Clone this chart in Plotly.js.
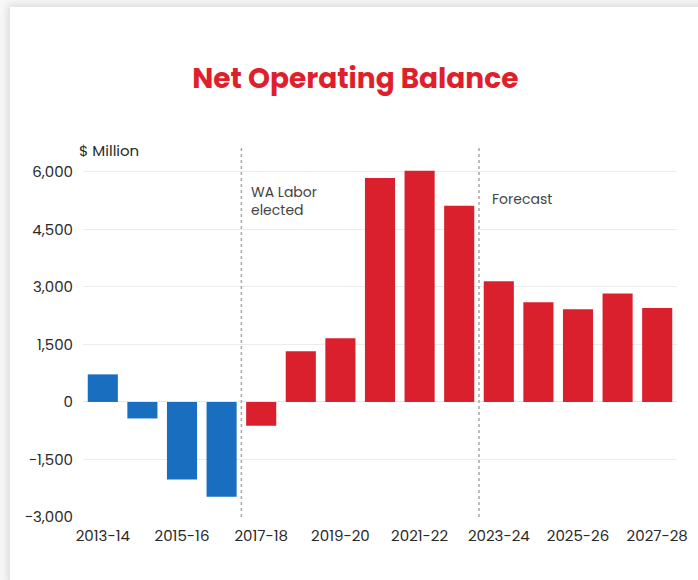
<!DOCTYPE html>
<html>
<head>
<meta charset="utf-8">
<script src="https://cdn.plot.ly/plotly-3.0.1.min.js"></script>
<style>
  html, body { margin: 0; padding: 0; width: 698px; height: 580px; overflow: hidden; background: #f7f7f7; }
  #card { position: absolute; left: 10px; top: 7px; width: 700px; height: 580px; background: #ffffff;
          box-shadow: -2px -2px 8px rgba(0,0,0,0.12); }
  #chart { position: absolute; left: 0; top: 0; width: 688px; height: 573px; }
</style>
</head>
<body>
<div id="card"><div id="chart"></div></div>
<script>
// Financial years
const categories = ["2013-14","2014-15","2015-16","2016-17","2017-18","2018-19","2019-20","2020-21",
                    "2021-22","2022-23","2023-24","2024-25","2025-26","2026-27","2027-28"];
// Net operating balance, $ million
const liberalYears = ["2013-14","2014-15","2015-16","2016-17"];
const liberalValues = [720, -430, -2020, -2470];
const laborYears = ["2017-18","2018-19","2019-20","2020-21","2021-22","2022-23",
                    "2023-24","2024-25","2025-26","2026-27","2027-28"];
const laborValues = [-620, 1320, 1660, 5840, 6030, 5120, 3150, 2600, 2420, 2830, 2450];
// Tick labels shown on the x axis
const xTickLabels = ["2013-14","2015-16","2017-18","2019-20","2021-22","2023-24","2025-26","2027-28"];
const yTickValues = [-3000, -1500, 0, 1500, 3000, 4500, 6000];
// Markers (boundaries between years)
const laborElectedAt = 3.5;
const forecastAt = 9.5;

const FONT = "Poppins, 'Open Sans', sans-serif";
const tickFont = { family: FONT, size: 15, color: "#2a2a2a" };

const traces = [
  { type: "bar", x: liberalYears, y: liberalValues, marker: { color: "#1a6ec0" }, hoverinfo: "x+y", showlegend: false },
  { type: "bar", x: laborYears, y: laborValues, marker: { color: "#da202c" }, hoverinfo: "x+y", showlegend: false }
];

const layout = {
  width: 688, height: 573,
  margin: { l: 72.7, r: 21.2, t: 140.4, b: 63.3 },
  paper_bgcolor: "#ffffff", plot_bgcolor: "#ffffff",
  barmode: "overlay", bargap: 0.24,
  title: { text: "<b>Net Operating Balance</b>", x: 0.502, xanchor: "center", y: 1 - 71/573, yanchor: "middle",
           font: { family: FONT, size: 28, color: "#e01f2d" } },
  xaxis: {
    type: "category", categoryorder: "array", categoryarray: categories,
    tickvals: xTickLabels, ticktext: xTickLabels,
    showgrid: false, zeroline: false, showline: false, ticks: "",
    tickfont: tickFont, ticklabelstandoff: 8, tickangle: 0
  },
  yaxis: {
    range: [-3000, 6650], tickvals: yTickValues, tickformat: ",d",
    showgrid: true, gridcolor: "#ececec", gridwidth: 1,
    zeroline: true, zerolinecolor: "#e6e6e6", zerolinewidth: 1,
    showline: false, ticks: "", tickfont: tickFont, ticklabelstandoff: 9
  },
  shapes: [
    { type: "line", xref: "x", yref: "paper", x0: laborElectedAt, x1: laborElectedAt, y0: 0, y1: 1,
      line: { color: "#a8a8a8", width: 1.5, dash: "dot" } },
    { type: "line", xref: "x", yref: "paper", x0: forecastAt, x1: forecastAt, y0: 0, y1: 1,
      line: { color: "#a8a8a8", width: 1.5, dash: "dot" } }
  ],
  annotations: [
    { text: "$ Million", xref: "paper", yref: "paper", x: -0.01, y: (516.7-151)/369.3,
      xanchor: "left", yanchor: "middle", showarrow: false,
      font: { family: FONT, size: 15, color: "#2a2a2a" } },
    { text: "WA Labor<br>elected", xref: "x", yref: "paper", x: laborElectedAt, xshift: 8, y: (516.7-201)/369.3,
      xanchor: "left", yanchor: "middle", align: "left", showarrow: false,
      font: { family: FONT, size: 14, color: "#444444" } },
    { text: "Forecast", xref: "x", yref: "paper", x: forecastAt, xshift: 11, y: (516.7-199)/369.3,
      xanchor: "left", yanchor: "middle", showarrow: false,
      font: { family: FONT, size: 14, color: "#444444" } }
  ]
};

Plotly.newPlot("chart", traces, layout, { displayModeBar: false, staticPlot: true });
</script>
</body>
</html>
